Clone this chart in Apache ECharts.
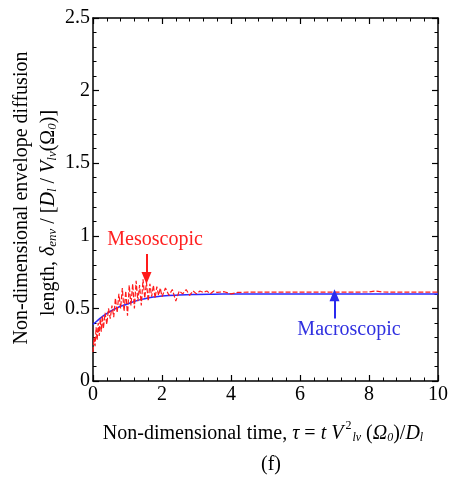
<!DOCTYPE html>
<html><head><meta charset="utf-8">
<script src="https://cdn.jsdelivr.net/npm/echarts@6/dist/echarts.min.js"></script>
<style>html,body{margin:0;padding:0;background:#fff}#c{width:452px;height:481px}</style>
</head><body><div id="c"></div>
<script>
// Data
const xTicks = [0, 2, 4, 6, 8, 10];
const yTicks = [0, 0.5, 1, 1.5, 2, 2.5];
const macroTau = [0, 0.1, 0.25, 0.5, 0.75, 1, 1.25, 1.5, 1.75, 2, 2.5, 3, 3.5, 4, 5, 6, 8, 10];
const macroVal = [0.39, 0.41, 0.44, 0.48, 0.51, 0.53, 0.552, 0.567, 0.578, 0.585, 0.592, 0.596, 0.598, 0.599, 0.6, 0.6, 0.6, 0.6];
const mesoTau = [0, 0.03, 0.06, 0.09, 0.12, 0.15, 0.18, 0.21, 0.24, 0.27, 0.3, 0.35, 0.4, 0.45, 0.5, 0.55, 0.6, 0.65, 0.7, 0.75, 0.8, 0.85, 0.9, 0.95,
  1, 1.05, 1.1, 1.15, 1.2, 1.25, 1.3, 1.35, 1.4, 1.45, 1.5, 1.55, 1.6, 1.65, 1.7, 1.75, 1.8, 1.85, 1.9, 1.95,
  2, 2.1, 2.2, 2.3, 2.4, 2.5, 2.6, 2.7, 2.8, 2.9, 3, 3.1, 3.2, 3.3, 3.4, 3.5, 3.6, 3.8, 4, 4.2, 4.5, 5, 6, 7, 8, 8.2, 8.4, 9, 10];
const mesoVal = [0.20, 0.30, 0.24, 0.37, 0.28, 0.40, 0.31, 0.43, 0.34, 0.45, 0.36, 0.47, 0.39, 0.50, 0.43, 0.52, 0.44, 0.57, 0.47, 0.60, 0.50, 0.64, 0.48, 0.62,
  0.45, 0.66, 0.52, 0.67, 0.50, 0.69, 0.55, 0.66, 0.52, 0.70, 0.57, 0.68, 0.55, 0.67, 0.58, 0.66, 0.57, 0.65, 0.59, 0.64,
  0.58, 0.64, 0.59, 0.63, 0.55, 0.62, 0.60, 0.63, 0.59, 0.62, 0.60, 0.62, 0.61, 0.62, 0.60, 0.62, 0.61, 0.615, 0.60, 0.61, 0.612, 0.612, 0.612, 0.612, 0.613, 0.62, 0.613, 0.612, 0.612];

const FONT = '"Liberation Serif", "Times New Roman", serif';
const chart = echarts.init(document.getElementById('c'), null, {renderer: 'canvas'});
const zip = (a, b) => a.map((v, i) => [v, b[i]]);

const axisCommon = () => ({
  axisLine: {show: true, onZero: false, lineStyle: {color: '#000', width: 1.5}},
  axisTick: {show: true, inside: true, length: 6, lineStyle: {color: '#000', width: 1.2}},
  minorTick: {show: true, splitNumber: 5, length: 3.5, lineStyle: {color: '#000', width: 1}},
  splitLine: {show: false}
});

chart.setOption({
  animation: false,
  backgroundColor: '#fff',
  grid: {left: 93, right: 14, top: 18, bottom: 100, containLabel: false},
  xAxis: [
    Object.assign({type: 'value', min: 0, max: 10, interval: 2, position: 'bottom',
      axisLabel: {color: '#000', fontFamily: FONT, fontSize: 20, margin: 4}}, axisCommon()),
    Object.assign({type: 'value', min: 0, max: 10, interval: 2, position: 'top', axisLabel: {show: false}}, axisCommon())
  ],
  yAxis: [
    Object.assign({type: 'value', min: 0, max: 2.5, interval: 0.5, position: 'left',
      axisLabel: {color: '#000', fontFamily: FONT, fontSize: 20, margin: 3}}, axisCommon()),
    Object.assign({type: 'value', min: 0, max: 2.5, interval: 0.5, position: 'right', axisLabel: {show: false}}, axisCommon())
  ],
  series: [
    {
      type: 'line', name: 'Macroscopic', data: zip(macroTau, macroVal), showSymbol: false, smooth: true,
      lineStyle: {color: '#2a2aff', width: 1.5}, z: 2,
      markLine: {
        silent: true, symbol: ['none', 'triangle'], symbolSize: [10, 12],
        lineStyle: {color: '#2a2aee', width: 2, type: 'solid'}, label: {show: false},
        data: [[{coord: [7, 0.43]}, {coord: [7, 0.59]}]]
      },
      markPoint: {
        silent: true, symbol: 'circle', symbolSize: 0,
        data: [{coord: [7.42, 0.35], label: {show: true, formatter: 'Macroscopic', color: '#3030e0', fontFamily: FONT, fontSize: 20}}]
      }
    },
    {
      type: 'line', name: 'Mesoscopic', data: zip(mesoTau, mesoVal), showSymbol: false,
      lineStyle: {color: '#ff1a1a', width: 1.2, type: [5, 2]}, z: 3,
      markLine: {
        silent: true, symbol: ['none', 'triangle'], symbolSize: [10, 12],
        lineStyle: {color: '#ff1a1a', width: 2, type: 'solid'}, label: {show: false},
        data: [[{coord: [1.55, 0.875]}, {coord: [1.55, 0.71]}]]
      },
      markPoint: {
        silent: true, symbol: 'circle', symbolSize: 0,
        data: [{coord: [1.8, 0.97], label: {show: true, formatter: 'Mesoscopic', color: '#ff2020', fontFamily: FONT, fontSize: 20}}]
      }
    }
  ],
  graphic: [
    {type: 'text', x: 22, y: 198, rotation: Math.PI / 2,
      style: {text: 'Non-dimensional envelope diffusion', font: '20px ' + FONT, fill: '#000', align: 'center', verticalAlign: 'middle'}},
    {type: 'text', x: 47, y: 213, rotation: Math.PI / 2,
      style: {
        text: '{n|length, }{i|δ}{s|env}{n| / [}{i|D}{s|l}{n| / }{i|V}{s|lv}{n|(Ω}{s|0}{n|)]}',
        align: 'center', verticalAlign: 'middle', fill: '#000',
        rich: {
          n: {font: '20px ' + FONT, fill: '#000', verticalAlign: 'bottom', lineHeight: 24},
          i: {font: 'italic 20px ' + FONT, fill: '#000', verticalAlign: 'bottom', lineHeight: 24},
          s: {font: 'italic 13px ' + FONT, fill: '#000', verticalAlign: 'bottom', lineHeight: 17}
        }
      }},
    {type: 'text', x: 263, y: 432,
      style: {
        text: '{n|Non-dimensional time, }{i|τ}{n| = }{i|t V}{sp|2}{s|lv}{n| (}{i|Ω}{s|0}{n|)/}{i|D}{s|l}',
        align: 'center', verticalAlign: 'middle', fill: '#000',
        rich: {
          n: {font: '20px ' + FONT, fill: '#000', verticalAlign: 'bottom', lineHeight: 24},
          i: {font: 'italic 20px ' + FONT, fill: '#000', verticalAlign: 'bottom', lineHeight: 24},
          s: {font: 'italic 12px ' + FONT, fill: '#000', verticalAlign: 'bottom', lineHeight: 15},
          sp: {font: '12px ' + FONT, fill: '#000', verticalAlign: 'top', lineHeight: 12, padding: [0, 1, 0, 2]}
        }
      }},
    {type: 'text', x: 271, y: 465,
      style: {text: '(f)', font: '20px ' + FONT, fill: '#000', align: 'center', verticalAlign: 'middle'}}
  ]
});
</script>
</body></html>
